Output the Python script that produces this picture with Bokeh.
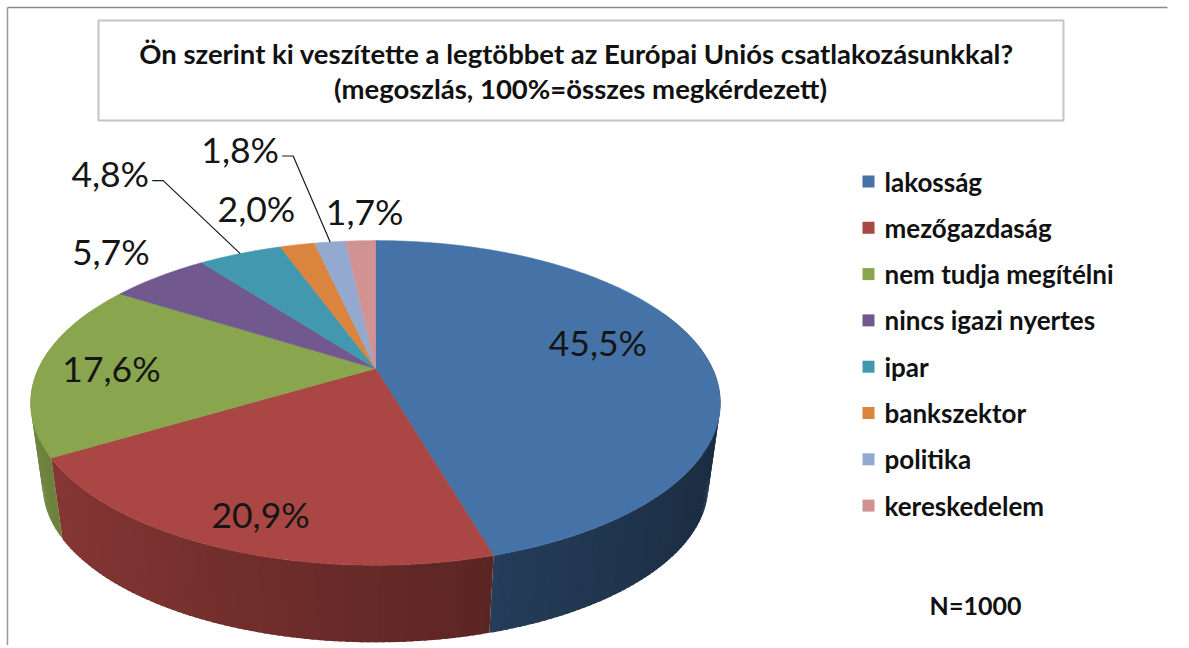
import math
from bokeh.plotting import figure
from bokeh.models import Range1d
from bokeh.core.properties import value
from bokeh.embed import file_html
from bokeh.resources import INLINE

# ---------------- data ----------------
categories = ["lakosság", "mezőgazdaság", "nem tudja megítélni", "nincs igazi nyertes",
              "ipar", "bankszektor", "politika", "kereskedelem"]
values = [45.5, 20.9, 17.6, 5.7, 4.8, 2.0, 1.8, 1.7]
colors = ["#4572A7", "#AA4643", "#89A54E", "#71588F", "#4198AF", "#DB843D", "#93A9CF", "#D19392"]
title_lines = ["Ön szerint ki veszítette a legtöbbet az Európai Uniós csatlakozásunkkal?",
               "(megoszlás, 100%=összes megkérdezett)"]
note = "N=1000"

# ---------------- layout (pixel space of the page) ----------------
W, H = 1185, 645
CX, CY = 375.0, 368.0      # projected pie centre
A, B = 337.0, 155.0        # semi axes before perspective
K = 0.212                  # perspective strength
S, D = 0.965, 84.0         # bottom disc scale and depth
FONT = "Lato"
# label placement: (radius factor, dx, dy)
label_layout = [(0.68, 0, -11), (0.8, 2, 9), (0.8, 5, 2), (1.0, -48, -25),
                (1.0, -130, -80), (1.0, -41, -36), (1.0, -90, -93), (1.0, 4, -29)]
leader = [False, False, False, False, True, False, True, False]


def proj(theta, r=1.0):
    u = r * math.sin(theta)
    v = -r * math.cos(theta)
    w = 1 - K * v
    return CX + A * u / w, CY + B * v / w


def bottom(x, y):
    return CX + (x - CX) * S, CY + (y - CY) * S + D


def shade(hexc, f):
    hexc = hexc.lstrip("#")
    r, g, b = (int(hexc[i:i + 2], 16) for i in (0, 2, 4))
    return "#%02x%02x%02x" % (min(255, int(r * f)), min(255, int(g * f)), min(255, int(b * f)))


p = figure(width=W, height=H, x_range=Range1d(0, W), y_range=Range1d(H, 0),
           output_backend="svg", toolbar_location=None, min_border=0)
p.axis.visible = False
p.grid.visible = False
p.outline_line_color = None
p.background_fill_color = "white"
p.border_fill_color = "white"

# outer frame lines
p.line([7, 7], [7, H], line_color="#9a9a9a", line_width=1.5)
p.line([7, 1167], [7, 7], line_color="#8a8a8a", line_width=1.5)

# title box
p.quad(left=[98], right=[1063], top=[20], bottom=[120], fill_color="white",
       line_color="#c4c4c4", line_width=2)
p.text(x=[576, 580], y=[53, 88], text=title_lines, text_font=value(FONT),
       text_font_style="bold", text_font_size="27.5px", text_align="center",
       text_baseline="middle", text_color="#111111")

# slice angles
total = sum(values)
starts, ends = [], []
acc = 0.0
for v in values:
    starts.append(acc / total * 2 * math.pi)
    acc += v
    ends.append(acc / total * 2 * math.pi)

# side wall (overlapping strips, far ones drawn first)
quads = []
eps = math.radians(0.6)
for i, (a0, a1) in enumerate(zip(starts, ends)):
    n = max(2, int((a1 - a0) / math.radians(1.0)) + 1)
    for j in range(n):
        t0 = a0 + (a1 - a0) * j / n
        t1 = a0 + (a1 - a0) * (j + 1) / n
        tm = 0.5 * (t0 + t1)
        vm = -math.cos(tm)
        if vm < -0.4:
            continue
        t1e = min(t1 + eps, a1) if j == n - 1 else t1 + eps
        x0, y0 = proj(t0)
        x1, y1 = proj(t1e)
        bx0, by0 = bottom(x0, y0)
        bx1, by1 = bottom(x1, y1)
        f = 0.6 - 0.22 * math.sin(tm)
        quads.append((vm, [x0, x1, bx1, bx0], [y0, y1, by1, by0], shade(colors[i], f)))
quads.sort(key=lambda q: q[0])
p.patches(xs=[q[1] for q in quads], ys=[q[2] for q in quads],
          fill_color=[q[3] for q in quads], line_color=None)

# top faces
txs, tys = [], []
for a0, a1 in zip(starts, ends):
    n = max(3, int((a1 - a0) / math.radians(0.5)) + 1)
    xs, ys = [CX], [CY]
    for j in range(n + 1):
        x, y = proj(a0 + (a1 - a0) * j / n)
        xs.append(x)
        ys.append(y)
    txs.append(xs)
    tys.append(ys)
p.patches(xs=txs, ys=tys, fill_color=colors, line_color=colors, line_width=0.6)

# data labels
lx, ly, lt = [], [], []
for i, v in enumerate(values):
    r, dx, dy = label_layout[i]
    mid = 0.5 * (starts[i] + ends[i])
    ax, ay = proj(mid, r)
    x, y = ax + dx, ay + dy
    lx.append(x)
    ly.append(y)
    lt.append(("%.1f" % v).replace(".", ",") + "%")
    if leader[i]:
        ex, ey = proj(mid, 1.0)
        p.line([ex, x + 53, x + 42], [ey, y + 7, y + 7], line_color="#1a1a1a", line_width=1.2)
p.text(x=lx, y=ly, text=lt, text_font=value(FONT), text_font_size="35.5px",
       text_align="center", text_baseline="middle", text_color="#151515")

# legend
ly0, lstep = 181.0, 46.3
leg_y = [ly0 + i * lstep for i in range(len(categories))]
p.rect(x=[868] * len(categories), y=leg_y, width=12, height=12, fill_color=colors, line_color=None)
p.text(x=[884] * len(categories), y=leg_y, text=categories, text_font=value(FONT),
       text_font_style="bold", text_font_size="26px", text_align="left",
       text_baseline="middle", text_color="#111111")

p.text(x=[975], y=[604], text=[note], text_font=value(FONT), text_font_style="bold",
       text_font_size="25px", text_align="center", text_baseline="middle", text_color="#111111")

open("out.html", "w").write(file_html(p, INLINE))
